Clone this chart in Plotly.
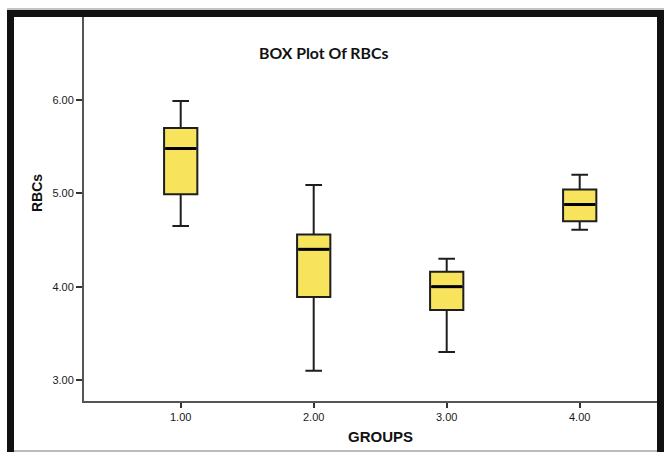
import plotly.graph_objects as go

# Group summary statistics for RBC counts
groups = [1, 2, 3, 4]
lower_whisker = [4.65, 3.10, 3.30, 4.61]
q1 = [4.99, 3.89, 3.75, 4.70]
median = [5.48, 4.40, 4.00, 4.88]
q3 = [5.70, 4.56, 4.16, 5.04]
upper_whisker = [5.99, 5.09, 4.30, 5.20]
y_ticks = [3, 4, 5, 6]

W, H = 664, 452
L, R, T, B = 84, 657, 17, 401  # plot area in pixels
BOX_WIDTH = 0.25


def px(x):
    return (x - L) / (R - L)


def py(y):
    return (B - y) / (B - T)


fig = go.Figure()
fig.add_trace(go.Box(
    x=groups,
    q1=q1, median=median, q3=q3,
    lowerfence=lower_whisker, upperfence=upper_whisker,
    width=BOX_WIDTH,
    whiskerwidth=0.5,
    fillcolor="#F7E35C",
    line=dict(color="#1e1e1e", width=2),
    boxpoints=False,
    showlegend=False,
    hoverinfo="skip",
))

# heavier median bars drawn over each box
med_x, med_y = [], []
for g, m in zip(groups, median):
    med_x += [g - BOX_WIDTH / 2 + 0.01, g + BOX_WIDTH / 2 - 0.01, None]
    med_y += [m, m, None]
fig.add_trace(go.Scatter(
    x=med_x, y=med_y, mode="lines",
    line=dict(color="#000000", width=3),
    showlegend=False, hoverinfo="skip",
))

frame = "#111111"
shapes = [
    # thin grey rule above the frame
    dict(type="line", x0=px(7), x1=px(664), y0=py(9), y1=py(9), line=dict(color="#888888", width=1)),
    # heavy black frame: top, left, right
    dict(type="rect", x0=px(7), x1=px(664), y0=py(17), y1=py(10), fillcolor=frame, line=dict(width=0)),
    dict(type="rect", x0=px(7), x1=px(14), y0=py(452), y1=py(10), fillcolor=frame, line=dict(width=0)),
    dict(type="rect", x0=px(657), x1=px(664), y0=py(452), y1=py(10), fillcolor=frame, line=dict(width=0)),
    # thin grey rule at the bottom
    dict(type="line", x0=px(14), x1=px(657), y0=py(451), y1=py(451), line=dict(color="#777777", width=1)),
]
for s in shapes:
    s.update(xref="paper", yref="paper", layer="above")

annotations = [
    dict(text="<b>BOX Plot Of RBCs</b>", x=px(323), y=py(52), xref="paper", yref="paper",
         showarrow=False, xanchor="center", yanchor="middle",
         font=dict(family="Lato, Open Sans, sans-serif", size=15.8, color="#111111")),
    dict(text="<b>RBCs</b>", x=px(37), y=py(193), xref="paper", yref="paper",
         showarrow=False, textangle=-90, xanchor="center", yanchor="middle",
         font=dict(family="Liberation Sans, Arial, sans-serif", size=14, color="#111111")),
    dict(text="<b>GROUPS</b>", x=px(380), y=py(436), xref="paper", yref="paper",
         showarrow=False, xanchor="center", yanchor="middle",
         font=dict(family="Liberation Sans, Arial, sans-serif", size=15, color="#111111")),
]

tick_font = dict(family="Liberation Sans, Arial, sans-serif", size=11, color="#1a1a1a")
y_per_px = 1 / 93.33
x_per_px = 1 / 133.0

fig.update_layout(
    width=W, height=H,
    margin=dict(l=L, r=W - R, t=T, b=H - B, pad=0),
    paper_bgcolor="white", plot_bgcolor="white",
    shapes=shapes,
    annotations=annotations,
    xaxis=dict(
        range=[1 - (180.7 - L) * x_per_px, 1 + (R - 180.7) * x_per_px],
        tickvals=groups, tickformat=".2f",
        showgrid=False, zeroline=False,
        showline=True, linecolor="#555555", linewidth=2,
        ticks="outside", ticklen=5, tickwidth=2, tickcolor="#333333",
        tickfont=tick_font,
    ),
    yaxis=dict(
        range=[6 - (B - 100) * y_per_px, 6 + (100 - T) * y_per_px],
        tickvals=y_ticks, tickformat=".2f",
        showgrid=False, zeroline=False,
        showline=True, linecolor="#555555", linewidth=2,
        ticks="outside", ticklen=6, tickwidth=2, tickcolor="#333333",
        tickfont=tick_font,
    ),
)

fig.write_html("out.html")
